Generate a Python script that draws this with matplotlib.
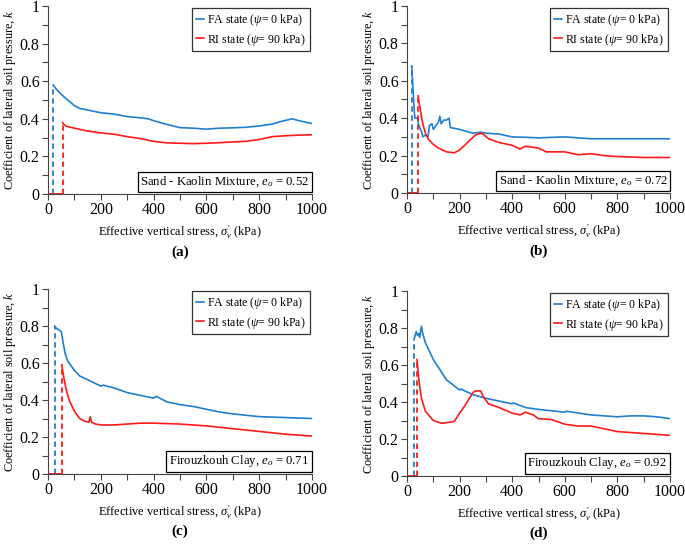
import matplotlib
matplotlib.use("Agg")
import matplotlib.pyplot as plt
from matplotlib.ticker import MultipleLocator, FuncFormatter

plt.rcParams['font.family'] = ['Liberation Serif', 'DejaVu Serif']
plt.rcParams['mathtext.fontset'] = 'custom'
plt.rcParams['mathtext.rm'] = 'Liberation Serif'
plt.rcParams['mathtext.it'] = 'Liberation Serif:italic'
plt.rcParams['mathtext.bf'] = 'Liberation Serif:bold'

# ---------------- data ----------------
# (a) Sand - Kaolin Mixture, e0 = 0.52
fa_a_x = [20, 30, 50, 75, 100, 120, 150, 200, 250, 300, 350, 380, 400, 450, 500, 550, 600, 650, 700, 750, 800, 850, 880, 925, 950, 1000]
fa_a_k = [0.58, 0.56, 0.53, 0.50, 0.47, 0.455, 0.447, 0.432, 0.425, 0.412, 0.405, 0.40, 0.39, 0.37, 0.353, 0.35, 0.345, 0.35, 0.352, 0.355, 0.362, 0.372, 0.385, 0.40, 0.39, 0.375]
ri_a_x = [55, 60, 70, 100, 150, 200, 250, 300, 350, 400, 450, 500, 550, 600, 650, 700, 750, 800, 850, 900, 950, 1000]
ri_a_k = [0.38, 0.37, 0.36, 0.35, 0.335, 0.325, 0.318, 0.305, 0.295, 0.28, 0.272, 0.27, 0.268, 0.27, 0.273, 0.277, 0.28, 0.29, 0.305, 0.31, 0.313, 0.315]

# (b) Sand - Kaolin Mixture, e0 = 0.72
fa_b_x = [18, 22, 27, 30, 40, 45, 55, 60, 70, 80, 85, 95, 100, 110, 120, 125, 130, 140, 150, 160, 165, 200, 250, 280, 300, 350, 400, 450, 500, 600, 650, 700, 800, 900, 1000]
fa_b_k = [0.68, 0.58, 0.45, 0.40, 0.40, 0.36, 0.33, 0.30, 0.31, 0.30, 0.36, 0.37, 0.34, 0.36, 0.38, 0.41, 0.37, 0.39, 0.39, 0.40, 0.35, 0.34, 0.32, 0.325, 0.32, 0.315, 0.30, 0.298, 0.295, 0.30, 0.295, 0.29, 0.29, 0.29, 0.29]
ri_b_x = [42, 50, 60, 70, 80, 100, 120, 150, 180, 200, 230, 260, 280, 290, 310, 350, 400, 430, 450, 500, 530, 600, 650, 700, 750, 800, 900, 1000]
ri_b_k = [0.52, 0.45, 0.37, 0.32, 0.29, 0.26, 0.24, 0.22, 0.215, 0.23, 0.27, 0.31, 0.32, 0.315, 0.29, 0.27, 0.255, 0.235, 0.25, 0.24, 0.22, 0.22, 0.205, 0.21, 0.20, 0.195, 0.19, 0.19]

# (c) Firouzkouh Clay, e0 = 0.71
fa_c_x = [25, 30, 40, 50, 55, 65, 75, 100, 120, 150, 200, 210, 250, 300, 350, 400, 410, 450, 500, 550, 600, 650, 700, 800, 900, 1000]
fa_c_k = [0.80, 0.79, 0.78, 0.77, 0.73, 0.65, 0.61, 0.56, 0.53, 0.51, 0.475, 0.48, 0.465, 0.44, 0.425, 0.41, 0.42, 0.39, 0.375, 0.365, 0.35, 0.335, 0.325, 0.31, 0.305, 0.30]
ri_c_x = [52, 60, 70, 80, 100, 120, 140, 155, 160, 165, 180, 200, 250, 300, 350, 400, 500, 600, 700, 800, 900, 1000]
ri_c_k = [0.59, 0.52, 0.45, 0.40, 0.34, 0.30, 0.285, 0.28, 0.31, 0.28, 0.27, 0.265, 0.265, 0.27, 0.275, 0.275, 0.27, 0.26, 0.245, 0.23, 0.215, 0.205]

# (d) Firouzkouh Clay, e0 = 0.92
fa_d_x = [27, 35, 40, 45, 48, 55, 60, 70, 100, 150, 200, 205, 250, 300, 350, 400, 405, 450, 500, 600, 605, 700, 800, 850, 900, 950, 1000]
fa_d_k = [0.74, 0.78, 0.76, 0.77, 0.75, 0.81, 0.77, 0.72, 0.63, 0.52, 0.465, 0.47, 0.44, 0.42, 0.405, 0.39, 0.395, 0.37, 0.36, 0.345, 0.35, 0.33, 0.32, 0.325, 0.325, 0.32, 0.31]
ri_d_x = [38, 45, 55, 70, 100, 130, 160, 180, 200, 220, 250, 260, 280, 290, 310, 350, 400, 430, 450, 480, 500, 550, 600, 650, 700, 750, 800, 900, 1000]
ri_d_k = [0.63, 0.52, 0.42, 0.35, 0.30, 0.285, 0.29, 0.295, 0.34, 0.38, 0.45, 0.46, 0.46, 0.43, 0.39, 0.37, 0.34, 0.33, 0.345, 0.33, 0.31, 0.305, 0.28, 0.27, 0.27, 0.255, 0.24, 0.23, 0.22]

panel_labels = ['(a)', '(b)', '(c)', '(d)']
box_texts = ['Sand - Kaolin Mixture, $e_o$ = 0.52',
             'Sand - Kaolin Mixture, $e_o$ = 0.72',
             'Firouzkouh Clay, $e_o$ = 0.71',
             'Firouzkouh Clay, $e_o$ = 0.92']
legend_fa = 'FA state ($\\psi$= 0 kPa)'
legend_ri = 'RI state ($\\psi$= 90 kPa)'
xlabel = 'Effective vertical stress, $\\sigma^{\\prime}_{v}$ (kPa)'
ylabel = 'Coefficient of lateral soil pressure, $k$'

BLUE = '#1f7fd0'
RED = '#ff1a1a'

fig = plt.figure(figsize=(6.85, 5.45), dpi=100)
positions = [
    [48/685, (545-194)/545, 264/685, 188/545],
    [407/685, (545-193)/545, 263/685, 187/545],
    [48/685, (545-474)/545, 264/685, 185/545],
    [407/685, (545-476)/545, 263/685, 185/545],
]
series = [
    (fa_a_x, fa_a_k, ri_a_x, ri_a_k),
    (fa_b_x, fa_b_k, ri_b_x, ri_b_k),
    (fa_c_x, fa_c_k, ri_c_x, ri_c_k),
    (fa_d_x, fa_d_k, ri_d_x, ri_d_k),
]

def draw(ax, x, k, color, label):
    ax.plot([0, x[0]], [0, 0], color=color, lw=1.3, solid_capstyle='butt', clip_on=False)
    ax.plot([x[0], x[0]], [0, k[0]], color=color, lw=1.3, ls=(0, (3, 2)))
    ax.plot(x, k, color=color, lw=1.2, label=label)

for i, (pos, (fx, fk, rx, rk)) in enumerate(zip(positions, series)):
    ax = fig.add_axes(pos)
    draw(ax, fx, fk, BLUE, legend_fa)
    draw(ax, rx, rk, RED, legend_ri)
    ax.set_xlim(0, 1000)
    ax.set_ylim(0, 1)
    ax.spines['top'].set_visible(False)
    ax.spines['right'].set_visible(False)
    ax.spines['left'].set_color('#444444')
    ax.spines['bottom'].set_color('#444444')
    ax.xaxis.set_major_locator(MultipleLocator(200))
    ax.xaxis.set_minor_locator(MultipleLocator(100))
    ax.yaxis.set_major_locator(MultipleLocator(0.2))
    ax.yaxis.set_minor_locator(MultipleLocator(0.1))
    ax.yaxis.set_major_formatter(FuncFormatter(lambda v, p: '%g' % round(v, 2)))
    ax.tick_params(which='both', direction='out', length=4, width=0.8, color='#444444',
                   labelsize=11.5, pad=2)
    ax.set_xlabel(xlabel, fontsize=8.9, labelpad=4)
    ax.set_ylabel(ylabel, fontsize=8.8, labelpad=1.5)
    leg = ax.legend(loc='upper right', fontsize=8.6, frameon=True, fancybox=False,
                    edgecolor='black', handlelength=0.7, handletextpad=0.25,
                    borderpad=0.3, labelspacing=0.3, borderaxespad=0.2)
    leg.get_frame().set_linewidth(0.9)
    ax.text(0.99, 0.025, box_texts[i], transform=ax.transAxes, ha='right', va='bottom',
            fontsize=9.2,
            bbox=dict(boxstyle='square,pad=0.22', fc='white', ec='black', lw=0.9))
    ax.text(0.5, -0.31, panel_labels[i], transform=ax.transAxes, ha='center', va='center',
            fontsize=11, fontweight='bold')

fig.savefig('out.png', dpi=100)
